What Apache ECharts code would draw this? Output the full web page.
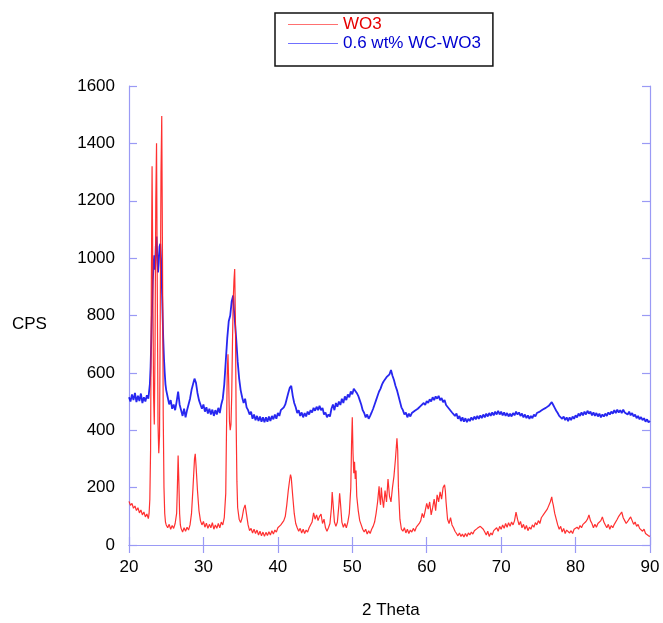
<!DOCTYPE html>
<html>
<head>
<meta charset="utf-8">
<script src="https://cdn.jsdelivr.net/npm/echarts@6/dist/echarts.min.js"></script>
<style>
html,body{margin:0;padding:0;background:#fff;}
#chart{width:663px;height:623px;}
</style>
</head>
<body>
<div id="chart"></div>
<script>
// 2-theta / CPS pairs
const wo3 = [
20.0,152, 20.2,138, 20.4,145, 20.6,128, 20.8,136, 21.0,120, 21.2,130, 21.4,112, 21.6,122, 21.8,105, 22.0,115, 22.2,98, 22.4,108, 22.6,92, 22.7,110, 22.8,160, 22.9,330, 23.0,900, 23.1,1320, 23.2,950, 23.3,520, 23.4,420, 23.5,700, 23.6,1200, 23.7,1400, 23.8,900, 23.9,420, 24.0,320, 24.1,380, 24.2,800, 24.3,1300, 24.4,1495, 24.5,1000, 24.6,450, 24.7,200, 24.8,110, 24.9,80, 25.0,70, 25.2,60, 25.4,72, 25.6,55, 25.8,68, 26.0,58, 26.2,75, 26.4,110, 26.5,200, 26.6,312, 26.7,220, 26.8,110, 26.9,70, 27.0,58, 27.2,45, 27.4,60, 27.6,48, 27.8,62, 28.0,52, 28.2,70, 28.4,110, 28.6,200, 28.8,300, 28.9,318, 29.0,280, 29.2,190, 29.4,120, 29.6,85, 29.8,70, 30.0,82, 30.2,62, 30.4,76, 30.6,58, 30.8,72, 31.0,60, 31.2,78, 31.4,55, 31.6,70, 31.8,58, 32.0,75, 32.2,60, 32.4,80, 32.6,70, 32.8,95, 33.0,180, 33.1,400, 33.2,600, 33.3,665, 33.4,560, 33.5,430, 33.6,400, 33.7,420, 33.8,520, 33.9,700, 34.0,850, 34.1,920, 34.2,962, 34.3,780, 34.4,420, 34.5,220, 34.6,130, 34.8,90, 35.0,78, 35.2,95, 35.4,125, 35.6,140, 35.8,105, 36.0,70, 36.2,50, 36.4,58, 36.6,42, 36.8,55, 37.0,40, 37.2,52, 37.4,35, 37.6,48, 37.8,32, 38.0,45, 38.2,30, 38.4,44, 38.6,33, 38.8,46, 39.0,35, 39.2,50, 39.4,38, 39.6,52, 39.8,45, 40.0,60, 40.2,55, 40.4,70, 40.6,68, 40.8,85, 41.0,100, 41.2,140, 41.4,190, 41.6,230, 41.7,245, 41.8,235, 42.0,170, 42.2,110, 42.4,75, 42.6,60, 42.8,48, 43.0,58, 43.2,42, 43.4,55, 43.6,40, 43.8,52, 44.0,45, 44.2,60, 44.4,55, 44.6,80, 44.8,112, 45.0,90, 45.2,105, 45.4,85, 45.6,100, 45.8,108, 46.0,75, 46.2,90, 46.4,60, 46.6,48, 46.8,60, 47.0,75, 47.2,130, 47.3,185, 47.4,150, 47.6,80, 47.8,65, 48.0,80, 48.2,140, 48.3,180, 48.4,150, 48.6,80, 48.8,62, 49.0,75, 49.2,60, 49.4,80, 49.6,110, 49.8,200, 49.9,350, 50.0,445, 50.1,320, 50.2,250, 50.3,290, 50.4,230, 50.5,260, 50.6,170, 50.8,120, 51.0,85, 51.2,70, 51.4,55, 51.6,45, 51.8,55, 52.0,38, 52.2,50, 52.4,40, 52.6,55, 52.8,65, 53.0,80, 53.2,110, 53.4,150, 53.6,205, 53.7,160, 53.8,140, 53.9,200, 54.0,170, 54.2,130, 54.4,190, 54.6,150, 54.8,230, 55.0,170, 55.2,150, 55.4,200, 55.6,240, 55.8,300, 56.0,372, 56.1,330, 56.2,200, 56.4,90, 56.6,55, 56.8,48, 57.0,60, 57.2,42, 57.4,55, 57.6,40, 57.8,52, 58.0,45, 58.2,58, 58.4,48, 58.6,62, 58.8,58, 59.0,75, 59.2,85, 59.4,110, 59.6,95, 59.8,120, 60.0,145, 60.2,125, 60.4,150, 60.6,105, 60.8,130, 61.0,160, 61.2,120, 61.4,175, 61.6,150, 61.8,185, 62.0,160, 62.2,200, 62.4,210, 62.5,190, 62.6,150, 62.8,90, 63.0,75, 63.2,95, 63.4,70, 63.6,60, 63.8,48, 64.0,40, 64.2,32, 64.4,42, 64.6,30, 64.8,38, 65.0,28, 65.2,40, 65.4,30, 65.6,42, 65.8,35, 66.0,45, 66.2,38, 66.4,50, 66.6,45, 66.8,58, 67.0,52, 67.2,65, 67.4,70, 67.6,55, 67.8,45, 68.0,35, 68.2,48, 68.4,30, 68.6,42, 68.8,35, 69.0,50, 69.2,45, 69.4,60, 69.6,48, 69.8,65, 70.0,55, 70.2,70, 70.4,58, 70.6,75, 70.8,62, 71.0,78, 71.2,65, 71.4,80, 71.6,70, 71.8,85, 72.0,115, 72.2,90, 72.4,70, 72.6,82, 72.8,60, 73.0,72, 73.2,55, 73.4,68, 73.6,50, 73.8,62, 74.0,55, 74.2,70, 74.4,62, 74.6,78, 74.8,70, 75.0,85, 75.2,75, 75.4,95, 75.6,90, 75.8,110, 76.0,105, 76.2,125, 76.4,130, 76.6,150, 76.8,168, 76.9,150, 77.0,140, 77.2,110, 77.4,90, 77.6,70, 77.8,55, 78.0,65, 78.2,45, 78.4,58, 78.6,40, 78.8,52, 79.0,55, 79.2,42, 79.4,50, 79.6,40, 79.8,55, 80.0,50, 80.2,62, 80.4,55, 80.6,68, 80.8,60, 81.0,72, 81.2,68, 81.4,82, 81.6,90, 81.8,105, 82.0,85, 82.2,75, 82.4,60, 82.6,72, 82.8,62, 83.0,75, 83.2,70, 83.4,85, 83.6,98, 83.8,80, 84.0,70, 84.2,60, 84.4,72, 84.6,55, 84.8,68, 85.0,60, 85.2,72, 85.4,78, 85.6,90, 85.8,100, 86.0,105, 86.2,115, 86.4,95, 86.6,85, 86.8,75, 87.0,82, 87.2,90, 87.4,98, 87.6,85, 87.8,72, 88.0,80, 88.2,65, 88.4,72, 88.6,58, 88.8,62, 89.0,48, 89.2,55, 89.4,40, 89.6,45, 89.8,32, 90.0,30
];
const wcwo3 = [
20.0,515, 20.2,500, 20.4,525, 20.6,505, 20.8,530, 21.0,498, 21.2,520, 21.4,502, 21.6,528, 21.8,495, 22.0,515, 22.2,500, 22.4,522, 22.6,510, 22.8,560, 22.9,620, 23.0,720, 23.1,830, 23.2,920, 23.3,980, 23.4,1010, 23.5,960, 23.6,1040, 23.7,1075, 23.8,1010, 23.9,950, 24.0,985, 24.1,1040, 24.2,1050, 24.3,1000, 24.4,920, 24.5,820, 24.6,720, 24.7,650, 24.8,600, 24.9,560, 25.0,540, 25.2,515, 25.4,490, 25.6,505, 25.8,475, 26.0,490, 26.2,470, 26.4,500, 26.6,535, 26.8,490, 27.0,470, 27.2,450, 27.4,475, 27.6,445, 27.8,470, 28.0,490, 28.2,510, 28.4,540, 28.6,560, 28.8,580, 29.0,565, 29.2,530, 29.4,505, 29.6,490, 29.8,475, 30.0,490, 30.2,465, 30.4,480, 30.6,458, 30.8,475, 31.0,455, 31.2,472, 31.4,450, 31.6,470, 31.8,455, 32.0,478, 32.2,460, 32.4,490, 32.6,510, 32.8,560, 33.0,640, 33.2,720, 33.4,780, 33.6,800, 33.8,850, 34.0,870, 34.1,820, 34.2,790, 34.4,720, 34.6,640, 34.8,580, 35.0,540, 35.2,515, 35.4,495, 35.6,510, 35.8,480, 36.0,470, 36.2,455, 36.4,465, 36.6,440, 36.8,455, 37.0,435, 37.2,450, 37.4,432, 37.6,448, 37.8,430, 38.0,445, 38.2,428, 38.4,445, 38.6,430, 38.8,448, 39.0,432, 39.2,450, 39.4,438, 39.6,455, 39.8,440, 40.0,460, 40.2,450, 40.4,470, 40.6,465, 40.8,480, 41.0,490, 41.2,510, 41.4,530, 41.6,548, 41.8,555, 42.0,520, 42.2,495, 42.4,480, 42.6,460, 42.8,470, 43.0,450, 43.2,462, 43.4,445, 43.6,460, 43.8,448, 44.0,465, 44.2,455, 44.4,470, 44.6,462, 44.8,478, 45.0,468, 45.2,482, 45.4,470, 45.6,485, 45.8,470, 46.0,478, 46.2,455, 46.4,462, 46.6,445, 46.8,455, 47.0,448, 47.2,475, 47.4,490, 47.6,470, 47.8,495, 48.0,482, 48.2,500, 48.4,488, 48.6,510, 48.8,495, 49.0,518, 49.2,505, 49.4,525, 49.6,515, 49.8,535, 50.0,525, 50.2,545, 50.4,540, 50.6,530, 50.8,520, 51.0,505, 51.2,490, 51.4,470, 51.6,460, 51.8,445, 52.0,455, 52.2,440, 52.4,450, 52.6,462, 52.8,475, 53.0,490, 53.2,505, 53.4,520, 53.6,535, 53.8,545, 54.0,560, 54.2,570, 54.4,575, 54.6,585, 54.8,580, 55.0,595, 55.2,610, 55.4,590, 55.6,575, 55.8,555, 56.0,540, 56.2,520, 56.4,500, 56.6,480, 56.8,470, 57.0,455, 57.2,462, 57.4,445, 57.6,458, 57.8,448, 58.0,460, 58.2,455, 58.4,468, 58.6,462, 58.8,475, 59.0,470, 59.2,485, 59.4,480, 59.6,495, 59.8,488, 60.0,502, 60.2,495, 60.4,508, 60.6,500, 60.8,515, 61.0,505, 61.2,518, 61.4,510, 61.6,520, 61.8,505, 62.0,512, 62.2,498, 62.4,505, 62.6,488, 62.8,492, 63.0,475, 63.2,480, 63.4,462, 63.6,468, 63.8,450, 64.0,458, 64.2,440, 64.4,450, 64.6,432, 64.8,445, 65.0,430, 65.2,442, 65.4,428, 65.6,440, 65.8,432, 66.0,445, 66.2,435, 66.4,448, 66.6,438, 66.8,450, 67.0,440, 67.2,452, 67.4,442, 67.6,455, 67.8,445, 68.0,458, 68.2,448, 68.4,460, 68.6,450, 68.8,462, 69.0,452, 69.2,465, 69.4,455, 69.6,468, 69.8,455, 70.0,465, 70.2,452, 70.4,462, 70.6,450, 70.8,460, 71.0,448, 71.2,458, 71.4,448, 71.6,460, 71.8,452, 72.0,465, 72.2,455, 72.4,462, 72.6,450, 72.8,458, 73.0,445, 73.2,455, 73.4,442, 73.6,452, 73.8,440, 74.0,450, 74.2,442, 74.4,455, 74.6,448, 74.8,460, 75.0,455, 75.2,465, 75.4,460, 75.6,472, 75.8,468, 76.0,478, 76.2,475, 76.4,485, 76.6,490, 76.8,498, 77.0,488, 77.2,478, 77.4,468, 77.6,460, 77.8,450, 78.0,455, 78.2,440, 78.4,448, 78.6,435, 78.8,445, 79.0,432, 79.2,445, 79.4,435, 79.6,448, 79.8,440, 80.0,452, 80.2,445, 80.4,458, 80.6,450, 80.8,462, 81.0,452, 81.2,465, 81.4,455, 81.6,468, 81.8,458, 82.0,465, 82.2,452, 82.4,462, 82.6,450, 82.8,460, 83.0,448, 83.2,458, 83.4,445, 83.6,455, 83.8,448, 84.0,458, 84.2,450, 84.4,462, 84.6,455, 84.8,465, 85.0,458, 85.2,470, 85.4,460, 85.6,472, 85.8,462, 86.0,470, 86.2,460, 86.4,472, 86.6,462, 86.8,468, 87.0,455, 87.2,465, 87.4,452, 87.6,460, 87.8,448, 88.0,455, 88.2,442, 88.4,450, 88.6,438, 88.8,446, 89.0,435, 89.2,442, 89.4,430, 89.6,438, 89.8,428, 90.0,432
];
const seriesNames = ['WO3', '0.6 wt% WC-WO3'];
const xTicks = [20, 30, 40, 50, 60, 70, 80, 90];
const yTicks = [0, 200, 400, 600, 800, 1000, 1200, 1400, 1600];

function toPairs(flat) {
  const out = [];
  for (let i = 0; i < flat.length; i += 2) out.push([flat[i], flat[i + 1]]);
  return out;
}

const AX = '#9a9af5';
const FONT = '"Liberation Sans", Arial, sans-serif';
const chart = echarts.init(document.getElementById('chart'), null, {renderer: 'canvas'});

const baseAxis = {
  axisLine: {show: true, lineStyle: {color: AX, width: 1.2}},
  axisTick: {show: true, inside: true, length: 8, lineStyle: {color: AX, width: 1.2}},
  splitLine: {show: false}
};

chart.setOption({
  animation: false,
  backgroundColor: '#fff',
  grid: {left: 129, right: 13, top: 86, bottom: 78, containLabel: false},
  legend: {
    show: true,
    orient: 'vertical',
    left: 275,
    top: 13,
    padding: [3, 12, 14, 13],
    itemGap: 2,
    itemWidth: 50,
    itemHeight: 1.2,
    icon: 'rect',
    borderColor: '#111',
    borderWidth: 1.5,
    borderRadius: 0,
    textStyle: {fontFamily: FONT, fontSize: 17},
    data: [
      {name: seriesNames[0], textStyle: {color: '#e60000'}, itemStyle: {color: '#ff7070'}},
      {name: seriesNames[1], textStyle: {color: '#0000d0'}, itemStyle: {color: '#7070ff'}}
    ]
  },
  xAxis: [
    Object.assign({}, baseAxis, {
      type: 'value', min: xTicks[0], max: xTicks[xTicks.length - 1], interval: 10,
      position: 'bottom',
      axisLabel: {color: '#000', fontSize: 17, fontFamily: FONT, margin: 14}
    }),
    Object.assign({}, baseAxis, {
      type: 'value', min: xTicks[0], max: xTicks[xTicks.length - 1], interval: 10,
      position: 'top', axisLabel: {show: false}
    })
  ],
  yAxis: [
    Object.assign({}, baseAxis, {
      type: 'value', min: yTicks[0], max: yTicks[yTicks.length - 1], interval: 200,
      position: 'left',
      axisLabel: {color: '#000', fontSize: 17, fontFamily: FONT, margin: 14,
        formatter: function (v) { return String(v); }}
    }),
    Object.assign({}, baseAxis, {
      type: 'value', min: yTicks[0], max: yTicks[yTicks.length - 1], interval: 200,
      position: 'right', axisLabel: {show: false}
    })
  ],
  graphic: [
    {type: 'text', left: 12, top: 316, style: {text: 'CPS', font: '17px ' + FONT, fill: '#000'}},
    {type: 'text', left: 362, top: 602, style: {text: '2 Theta', font: '17px ' + FONT, fill: '#000'}}
  ],
  series: [
    {
      name: seriesNames[0], type: 'line', data: toPairs(wo3), symbol: 'none',
      xAxisIndex: 0, yAxisIndex: 0,
      lineStyle: {color: '#ff1a1a', width: 1.2, opacity: 0.9},
      itemStyle: {color: '#ff1a1a'}, z: 3
    },
    {
      name: seriesNames[1], type: 'line', data: toPairs(wcwo3), symbol: 'none',
      xAxisIndex: 0, yAxisIndex: 0,
      lineStyle: {color: '#1010ee', width: 1.8, opacity: 0.9},
      itemStyle: {color: '#1010ee'}, z: 2
    }
  ]
});
</script>
</body>
</html>
